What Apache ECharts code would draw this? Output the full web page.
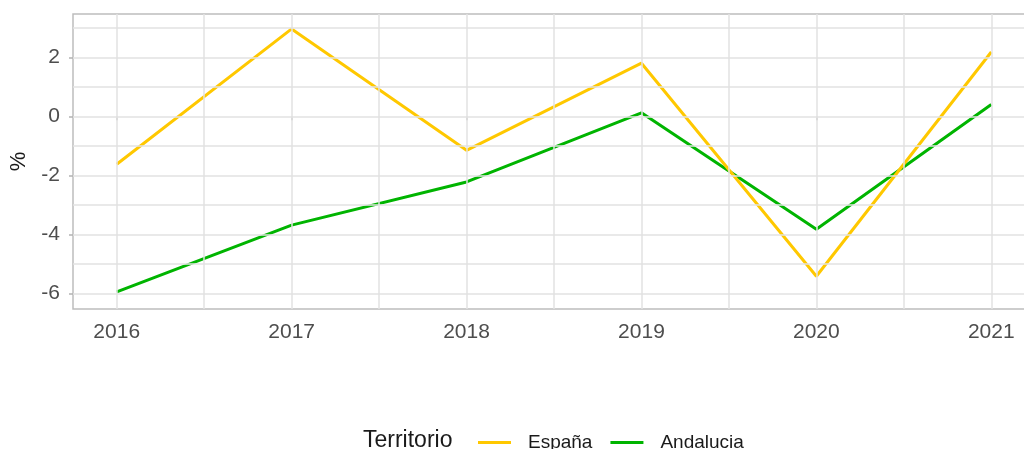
<!DOCTYPE html>
<html>
<head>
<meta charset="utf-8">
<script src="https://cdn.jsdelivr.net/npm/echarts@6/dist/echarts.min.js"></script>
<style>
  html, body { margin: 0; padding: 0; background: #fff; }
  #chart { width: 1024px; height: 449px; }
</style>
</head>
<body>
<div id="chart"></div>
<script>
const years = [2016, 2017, 2018, 2019, 2020, 2021];
const espana = [-1.62, 2.96, -1.15, 1.80, -5.41, 2.18];
const andalucia = [-5.94, -3.68, -2.22, 0.12, -3.82, 0.40];

const xBreaks = [2016, 2017, 2018, 2019, 2020, 2021];
const xMinor = [2016.5, 2017.5, 2018.5, 2019.5, 2020.5];
const yBreaks = [-6, -4, -2, 0, 2];
const yMinor = [-5, -3, -1, 1, 3];

const gridColor = '#e2e2e2';
const font = 'Liberation Sans, Arial, sans-serif';

const chart = echarts.init(document.getElementById('chart'), null, { renderer: 'canvas' });

function gridLines() {
  const out = [];
  xBreaks.concat(xMinor).forEach(v => out.push({ xAxis: v }));
  yBreaks.concat(yMinor).forEach(v => out.push({ yAxis: v }));
  return out;
}

chart.setOption({
  animation: false,
  grid: {
    left: 73, top: 14, width: 962, height: 295,
    show: true, borderColor: '#bdbdbd', borderWidth: 1.5,
    containLabel: false, outerBoundsMode: 'none'
  },
  xAxis: {
    type: 'value',
    min: 2015.75, max: 2021.25,
    minInterval: 1, maxInterval: 1,
    axisLine: { show: false },
    splitLine: { show: false },
    axisTick: { show: true, length: 4, customValues: xBreaks, lineStyle: { color: '#b3b3b3', width: 1.5 } },
    axisLabel: {
      customValues: xBreaks,
      color: '#4d4d4d', fontSize: 21, fontFamily: font, margin: 13,
      formatter: v => (Number.isInteger(v) ? String(v) : '')
    }
  },
  yAxis: {
    type: 'value',
    min: -6.52, max: 3.465,
    minInterval: 2, maxInterval: 2,
    name: '%', nameLocation: 'middle', nameGap: 41,
    nameTextStyle: { color: '#1a1a1a', fontSize: 22, fontFamily: font },
    axisLine: { show: false },
    splitLine: { show: false },
    axisTick: { show: true, length: 4, customValues: yBreaks, lineStyle: { color: '#b3b3b3', width: 1.5 } },
    axisLabel: {
      customValues: yBreaks,
      color: '#4d4d4d', fontSize: 21, fontFamily: font, margin: 13,
      formatter: v => (Number.isInteger(v) && v % 2 === 0 ? String(v) : '')
    }
  },
  legend: {
    left: 473, top: 428,
    itemWidth: 33, itemHeight: 3, itemGap: 18,
    icon: 'rect',
    textStyle: { color: '#1a1a1a', fontSize: 19, fontFamily: font, padding: [0, 0, 0, 12] },
    data: ['España', 'Andalucia']
  },
  graphic: [{
    type: 'text', left: 363, top: 429,
    style: { text: 'Territorio', fill: '#1a1a1a', fontSize: 23, fontFamily: font }
  }],
  series: [
    {
      name: 'grid', type: 'line', data: [], silent: true, z: 0,
      markLine: {
        silent: true, symbol: 'none', animation: false,
        label: { show: false },
        lineStyle: { color: gridColor, width: 1.5, type: 'solid' },
        emphasis: { disabled: true },
        data: gridLines()
      }
    },
    {
      name: 'España', type: 'line', z: 3,
      data: years.map((y, i) => [y, espana[i]]),
      showSymbol: false, symbol: 'none',
      lineStyle: { color: '#FFC800', width: 3 },
      itemStyle: { color: '#FFC800' }
    },
    {
      name: 'Andalucia', type: 'line', z: 2,
      data: years.map((y, i) => [y, andalucia[i]]),
      showSymbol: false, symbol: 'none',
      lineStyle: { color: '#00B400', width: 3 },
      itemStyle: { color: '#00B400' }
    }
  ]
});
</script>
</body>
</html>
